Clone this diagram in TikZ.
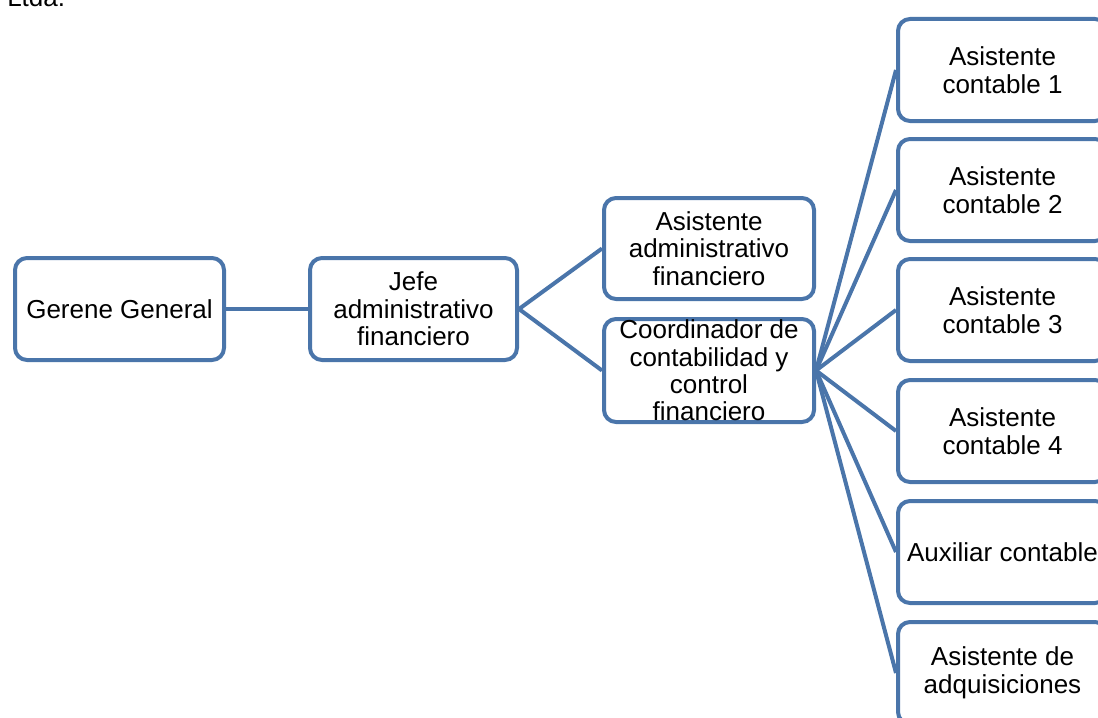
\documentclass[tikz,border=0pt]{standalone}
\usepackage{fontspec}
\setmainfont{Liberation Sans}
\definecolor{orgblue}{RGB}{74,117,170}
\begin{document}
\begin{tikzpicture}[x=0.75pt,y=-0.75pt,
  box/.style={draw=orgblue,line width=3pt,rounded corners=9pt,fill=white,
    minimum width=209*0.75pt,minimum height=102*0.75pt,inner sep=0pt,anchor=north west},
  txt/.style={align=center,font=\fontsize{19.5}{20.6}\selectfont,inner sep=0pt},
  link/.style={draw=orgblue,line width=3pt}]
\useasboundingbox (0,0) rectangle (1098,717);
\clip (0,0) rectangle (1098,717);

\node[anchor=base west,font=\fontsize{19.5}{20.6}\selectfont,inner sep=0pt] (ltda) at (7,7) {Ltda.};

% first levels
\node[box] (gg) at (13,256) {};
\node[box,minimum width=207*0.75pt] (jefe) at (308,256) {};
\node[box,minimum width=210*0.75pt,minimum height=101*0.75pt] (asad) at (602,196) {};
\node[box,minimum width=210*0.75pt,minimum height=103*0.75pt] (coord) at (602,317) {};

% right column
\node[box] (ac1) at (896,17) {};
\node[box] (ac2) at (896,137) {};
\node[box] (ac3) at (896,257) {};
\node[box] (ac4) at (896,378) {};
\node[box] (aux) at (896,499) {};
\node[box] (adq) at (896,620) {};

% connectors
\draw[link] (gg.east) -- (jefe.west);
\draw[link] (jefe.east) -- (asad.west);
\draw[link] (jefe.east) -- (coord.west);
\foreach \n in {ac1,ac2,ac3,ac4,aux,adq}
  \draw[link] (coord.east) -- (\n.west);

% labels
\node[txt] (tgg) at (gg.center) {Gerene General};
\node[txt] (tjefe) at (jefe.center) {Jefe\\administrativo\\financiero};
\node[txt] (tasad) at (asad.center) {Asistente\\administrativo\\financiero};
\node[txt] (tcoord) at (coord.center) {Coordinador de\\contabilidad y\\control\\financiero};
\node[txt] (tac1) at (ac1.center) {Asistente\\contable 1};
\node[txt] (tac2) at (ac2.center) {Asistente\\contable 2};
\node[txt] (tac3) at (ac3.center) {Asistente\\contable 3};
\node[txt] (tac4) at (ac4.center) {Asistente\\contable 4};
\node[txt] (taux) at (aux.center) {Auxiliar contable};
\node[txt] (tadq) at (adq.center) {Asistente de\\adquisiciones};
\end{tikzpicture}
\end{document}
